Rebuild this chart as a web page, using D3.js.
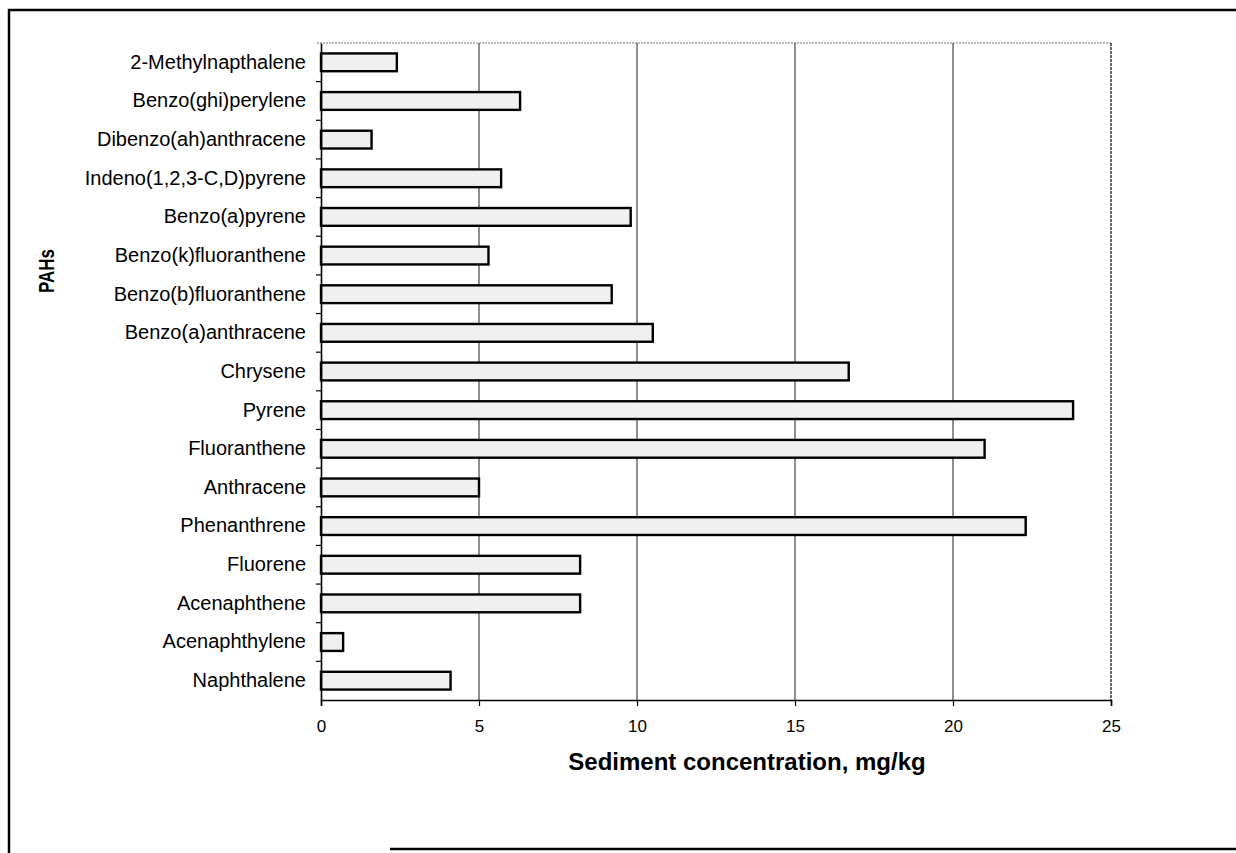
<html>
<head>
<script src="https://d3js.org/d3.v7.min.js"></script>
<style>
  body { margin: 0; background: #fff; }
  text { font-family: "Liberation Sans", Arial, sans-serif; }
</style>
</head>
<body>
<svg id="chart" width="1236" height="853"></svg>
<script>
// PAHs from bottom (Naphthalene) to top
var compounds = ["Naphthalene", "Acenaphthylene", "Acenaphthene", "Fluorene", "Phenanthrene",
  "Anthracene", "Fluoranthene", "Pyrene", "Chrysene", "Benzo(a)anthracene",
  "Benzo(b)fluoranthene", "Benzo(k)fluoranthene", "Benzo(a)pyrene",
  "Indeno(1,2,3-C,D)pyrene", "Dibenzo(ah)anthracene", "Benzo(ghi)perylene", "2-Methylnapthalene"];
var concentration = [4.1, 0.7, 8.2, 8.2, 22.3, 5.0, 21.0, 23.8, 16.7, 10.5, 9.2, 5.3, 9.8, 5.7, 1.6, 6.3, 2.4];
var xTicks = [0, 5, 10, 15, 20, 25];

var svg = d3.select("#chart");
var plotLeft = 321, plotRight = 1111, plotTop = 43, plotBottom = 700;

var x = d3.scaleLinear().domain([0, 25]).range([plotLeft, plotRight]);
var y = d3.scaleBand().domain(compounds.slice().reverse()).range([plotTop, plotBottom])
  .paddingInner(0.54).paddingOuter(0.27);

// outer frame (scanned page border)
svg.append("path")
  .attr("d", "M9,853 L9,10 L1236,10 M390,849 L1236,849")
  .attr("fill", "none").attr("stroke", "#000").attr("stroke-width", 2.5);

// top plot border, dotted grey
svg.append("line")
  .attr("x1", plotLeft - 4).attr("x2", plotRight).attr("y1", plotTop).attr("y2", plotTop)
  .attr("stroke", "#777").attr("stroke-width", 1.2).attr("stroke-dasharray", "2,1");

// vertical gridlines
svg.append("g").selectAll("line").data(xTicks.slice(1)).enter().append("line")
  .attr("x1", d => x(d)).attr("x2", d => x(d))
  .attr("y1", plotTop).attr("y2", plotBottom)
  .attr("stroke", d => d === 25 ? "#222" : "#333")
  .attr("stroke-width", d => d === 25 ? 1.4 : 1.1)
  .attr("stroke-dasharray", d => d === 25 ? "3,1" : null);

// bars
svg.append("g").selectAll("rect").data(compounds).enter().append("rect")
  .attr("x", x(0))
  .attr("y", d => y(d))
  .attr("width", (d, i) => x(concentration[i]) - x(0))
  .attr("height", y.bandwidth())
  .attr("fill", "#f0f0f0")
  .attr("stroke", "#000")
  .attr("stroke-width", 2.4);

// y axis
var yAxis = svg.append("g").attr("transform", "translate(" + plotLeft + ",0)")
  .call(d3.axisLeft(y).tickSize(0).tickPadding(15));
yAxis.select(".domain").attr("stroke", "#000").attr("stroke-width", 1.6);
yAxis.selectAll("text").attr("font-size", "20px").attr("fill", "#000")
  .style("font-family", "'Liberation Sans', Arial, sans-serif");
// category boundary ticks
var gap = y.step() - y.bandwidth();
svg.append("g").selectAll("line").data(compounds.slice(1)).enter().append("line")
  .attr("x1", plotLeft - 5).attr("x2", plotLeft)
  .attr("y1", d => y(d) + y.bandwidth() + gap / 2)
  .attr("y2", d => y(d) + y.bandwidth() + gap / 2)
  .attr("stroke", "#000").attr("stroke-width", 1.2);

// x axis
var xAxis = svg.append("g").attr("transform", "translate(0," + plotBottom + ")")
  .call(d3.axisBottom(x).tickValues(xTicks).tickSize(6).tickPadding(14));
xAxis.select(".domain").attr("stroke", "#000").attr("stroke-width", 1.6);
xAxis.selectAll("line").attr("stroke", "#000").attr("stroke-width", 1.2);
xAxis.selectAll("text").attr("font-size", "17px").attr("fill", "#000")
  .style("font-family", "'Liberation Sans', Arial, sans-serif");

// axis titles
svg.append("text")
  .attr("x", 747).attr("y", 770)
  .attr("text-anchor", "middle")
  .attr("font-size", "24px").attr("font-weight", "bold")
  .text("Sediment concentration, mg/kg");

svg.append("text")
  .attr("transform", "translate(54,271) rotate(-90) scale(1,1.35)")
  .attr("text-anchor", "middle")
  .attr("font-size", "17px").attr("font-weight", "bold")
  .text("PAHs");
</script>
</body>
</html>
